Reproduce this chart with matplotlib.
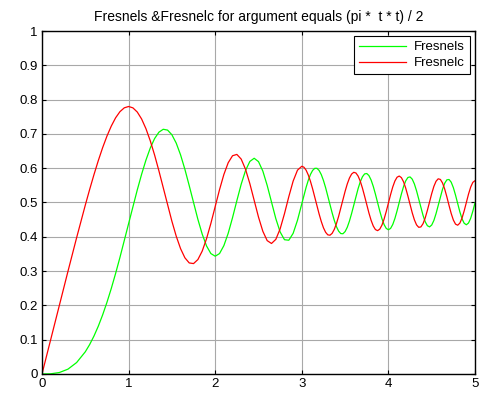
import matplotlib
matplotlib.use("Agg")
import matplotlib.pyplot as plt

plt.rcParams['font.family'] = ['Liberation Sans', 'DejaVu Sans']

# argument values t (finer steps where the curves wiggle faster)
t = [0.0, 0.1, 0.2, 0.3, 0.4, 0.5,
     0.55, 0.6, 0.65, 0.7, 0.75, 0.8, 0.85, 0.9, 0.95, 1.0,
     1.05, 1.1, 1.15, 1.2, 1.25, 1.3, 1.35, 1.4, 1.45, 1.5,
     1.55, 1.6, 1.65, 1.7, 1.75, 1.8, 1.85, 1.9, 1.95, 2.0,
     2.05, 2.1, 2.15, 2.2, 2.25, 2.3, 2.35, 2.4, 2.45, 2.5,
     2.55, 2.6, 2.65, 2.7, 2.75, 2.8, 2.85, 2.9, 2.95, 3.0,
     3.025, 3.05, 3.075, 3.1, 3.125, 3.15, 3.175, 3.2, 3.225, 3.25,
     3.275, 3.3, 3.325, 3.35, 3.375, 3.4, 3.425, 3.45, 3.475, 3.5,
     3.525, 3.55, 3.575, 3.6, 3.625, 3.65, 3.675, 3.7, 3.725, 3.75,
     3.775, 3.8, 3.825, 3.85, 3.875, 3.9, 3.925, 3.95, 3.975, 4.0,
     4.025, 4.05, 4.075, 4.1, 4.125, 4.15, 4.175, 4.2, 4.225, 4.25,
     4.275, 4.3, 4.325, 4.35, 4.375, 4.4, 4.425, 4.45, 4.475, 4.5,
     4.525, 4.55, 4.575, 4.6, 4.625, 4.65, 4.675, 4.7, 4.725, 4.75,
     4.775, 4.8, 4.825, 4.85, 4.875, 4.9, 4.925, 4.95, 4.975, 5.0]

fresnel_s = [0.0, 0.0005, 0.0042, 0.0141, 0.0334, 0.0647,
             0.0857, 0.1105, 0.1393, 0.1721, 0.2089, 0.2493, 0.2932, 0.3398, 0.3885, 0.4383,
             0.4880, 0.5365, 0.5821, 0.6234, 0.6587, 0.6863, 0.7050, 0.7135, 0.7111, 0.6975,
             0.6731, 0.6389, 0.5968, 0.5492, 0.4994, 0.4509, 0.4077, 0.3733, 0.3511, 0.3434,
             0.3511, 0.3742, 0.4102, 0.4557, 0.5053, 0.5532, 0.5931, 0.6197, 0.6290, 0.6192,
             0.5916, 0.5500, 0.5011, 0.4529, 0.4140, 0.3915, 0.3900, 0.4101, 0.4481, 0.4963,
             0.5211, 0.5445, 0.5651, 0.5818, 0.5936, 0.5996, 0.5996, 0.5933, 0.5813, 0.5642,
             0.5431, 0.5193, 0.4944, 0.4700, 0.4479, 0.4296, 0.4165, 0.4094, 0.4089, 0.4152,
             0.4278, 0.4459, 0.4679, 0.4923, 0.5172, 0.5404, 0.5603, 0.5750, 0.5833, 0.5845,
             0.5785, 0.5656, 0.5471, 0.5244, 0.4997, 0.4752, 0.4531, 0.4357, 0.4244, 0.4205,
             0.4244, 0.4358, 0.4535, 0.4758, 0.5005, 0.5249, 0.5466, 0.5632, 0.5729, 0.5746,
             0.5681, 0.5540, 0.5339, 0.5101, 0.4852, 0.4623, 0.4438, 0.4323, 0.4289, 0.4343,
             0.4477, 0.4676, 0.4914, 0.5162, 0.5388, 0.5562, 0.5661, 0.5671, 0.5592, 0.5432,
             0.5214, 0.4968, 0.4727, 0.4526, 0.4394, 0.4351, 0.4402, 0.4541, 0.4748, 0.4992]

fresnel_c = [0.0, 0.1000, 0.1999, 0.2994, 0.3975, 0.4923,
             0.5377, 0.5811, 0.6220, 0.6597, 0.6935, 0.7228, 0.7469, 0.7648, 0.7760, 0.7799,
             0.7759, 0.7638, 0.7436, 0.7154, 0.6801, 0.6386, 0.5923, 0.5431, 0.4933, 0.4453,
             0.4018, 0.3655, 0.3388, 0.3238, 0.3219, 0.3336, 0.3583, 0.3945, 0.4390, 0.4883,
             0.5374, 0.5816, 0.6159, 0.6363, 0.6402, 0.6266, 0.5970, 0.5550, 0.5061, 0.4574,
             0.4161, 0.3889, 0.3805, 0.3925, 0.4233, 0.4675, 0.5171, 0.5624, 0.5942, 0.6057,
             0.6028, 0.5941, 0.5801, 0.5616, 0.5396, 0.5154, 0.4905, 0.4663, 0.4445, 0.4263,
             0.4131, 0.4057, 0.4046, 0.4100, 0.4216, 0.4385, 0.4596, 0.4836, 0.5085, 0.5326,
             0.5541, 0.5713, 0.5829, 0.5880, 0.5860, 0.5771, 0.5621, 0.5420, 0.5185, 0.4936,
             0.4694, 0.4481, 0.4315, 0.4211, 0.4179, 0.4223, 0.4339, 0.4516, 0.4738, 0.4984,
             0.5230, 0.5452, 0.5627, 0.5737, 0.5771, 0.5725, 0.5603, 0.5417, 0.5188, 0.4940,
             0.4700, 0.4494, 0.4347, 0.4276, 0.4288, 0.4383, 0.4551, 0.4771, 0.5017, 0.5260,
             0.5470, 0.5619, 0.5691, 0.5672, 0.5569, 0.5391, 0.5163, 0.4914, 0.4679, 0.4488,
             0.4369, 0.4338, 0.4399, 0.4546, 0.4757, 0.5002, 0.5245, 0.5450, 0.5588, 0.5636]

fig = plt.figure(figsize=(4.86, 3.94), dpi=100)
ax = fig.add_axes([0.0864, 0.0508, 0.891, 0.8705])

ax.plot(t, fresnel_s, color='#00ff00', linewidth=0.9, label='Fresnels')
ax.plot(t, fresnel_c, color='#ff0000', linewidth=0.9, label='Fresnelc')

ax.set_xlim(0, 5)
ax.set_ylim(0, 1)
ax.set_xticks([0, 1, 2, 3, 4, 5])
ax.set_xticklabels(['0', '1', '2', '3', '4', '5'])
ax.set_yticks([0, 0.1, 0.2, 0.3, 0.4, 0.5, 0.6, 0.7, 0.8, 0.9, 1])
ax.set_yticklabels(['0', '0.1', '0.2', '0.3', '0.4', '0.5', '0.6', '0.7', '0.8', '0.9', '1'])
ax.tick_params(direction='in', top=True, right=True, length=3, width=0.8,
               labelsize=9.5, pad=3)
ax.grid(True, color='#a8a8a8', linewidth=0.8)
for sp in ax.spines.values():
    sp.set_linewidth(1.0)

ax.set_title('Fresnels &Fresnelc for argument equals (pi *  t * t) / 2', fontsize=10, pad=7)

leg = ax.legend(loc='upper right', fontsize=9.5, fancybox=False, framealpha=1,
                edgecolor='black', handlelength=3.6, borderaxespad=0.4,
                borderpad=0.35, labelspacing=0.3, handletextpad=0.6)
leg.get_frame().set_linewidth(0.8)

fig.savefig('out.png', dpi=100)
